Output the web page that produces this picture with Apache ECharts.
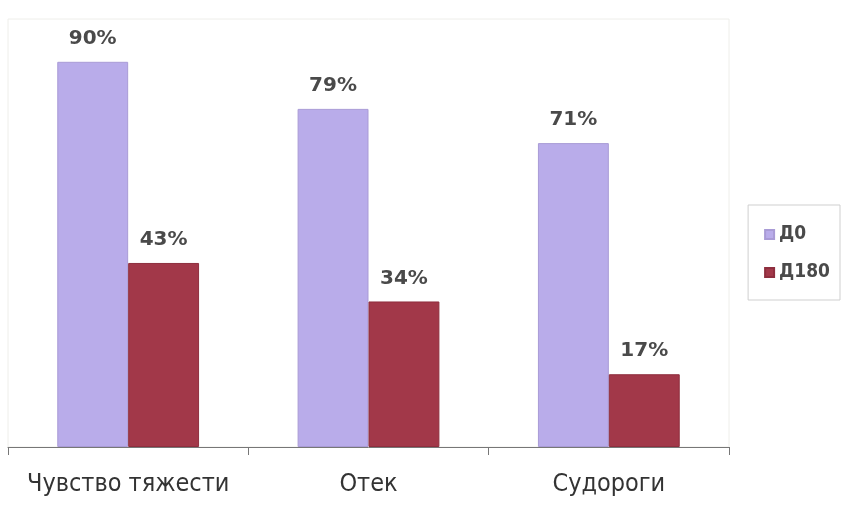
<!DOCTYPE html>
<html>
<head>
<meta charset="utf-8">
<script src="https://cdn.jsdelivr.net/npm/echarts@6/dist/echarts.min.js"></script>
<style>
	html, body { margin: 0; padding: 0; background: #fff; }
	#chart { width: 843px; height: 505px; }
</style>
</head>
<body>
<div id="chart"></div>
<script>
var categories = ['Чувство тяжести', 'Отек', 'Судороги'];
var seriesNames = ['Д0', 'Д180'];
var d0Values = [90, 79, 71];
var d180Values = [43, 34, 17];

var ec = echarts.init(document.getElementById('chart'));
var labelStyle = {
	show: true,
	position: 'top',
	distance: 13,
	formatter: '{c}%',
	fontFamily: 'DejaVu Sans',
	fontWeight: 'bold',
	fontSize: 20,
	color: '#4a4a4a'
};
var option = {
	backgroundColor: '#ffffff',
	animation: false,
	color: ['#b9acea', '#a23849'],
	grid: {
		left: 8,
		right: 114,
		top: 19,
		bottom: 58,
		show: true,
		borderColor: '#eeeeea',
		borderWidth: 1
	},
	legend: {
		data: seriesNames,
		orient: 'vertical',
		right: 3,
		top: 205,
		icon: 'rect',
		itemWidth: 9,
		itemHeight: 9,
		itemGap: 19,
		padding: [20, 10, 18, 16],
		borderColor: '#cfcfcf',
		borderWidth: 1,
		textStyle: {
			fontFamily: 'DejaVu Sans Condensed, Liberation Sans',
			fontWeight: 'bold',
			fontSize: 19,
			color: '#4a4a4a'
		}
	},
	xAxis: {
		type: 'category',
		data: categories,
		axisLine: { lineStyle: { color: '#777', width: 1 } },
		axisTick: { show: true, length: 8, lineStyle: { color: '#777' } },
		axisLabel: {
			interval: 0,
			margin: 25,
			fontFamily: 'DejaVu Sans Condensed, Liberation Sans',
			fontSize: 25,
			color: '#333'
		}
	},
	yAxis: {
		type: 'value',
		min: 0,
		max: 100,
		show: false,
		splitLine: { show: false }
	},
	series: [
		{
			name: seriesNames[0],
			type: 'bar',
			data: d0Values,
			barCategoryGap: '41%',
			barGap: '0%',
			label: labelStyle,
			itemStyle: { borderColor: '#a99bd6', borderWidth: 1 }
		},
		{
			name: seriesNames[1],
			type: 'bar',
			data: d180Values,
			barCategoryGap: '41%',
			barGap: '0%',
			label: labelStyle,
			itemStyle: { borderColor: '#8e2e3e', borderWidth: 1 }
		}
	]
};
ec.setOption(option);
</script>
</body>
</html>
